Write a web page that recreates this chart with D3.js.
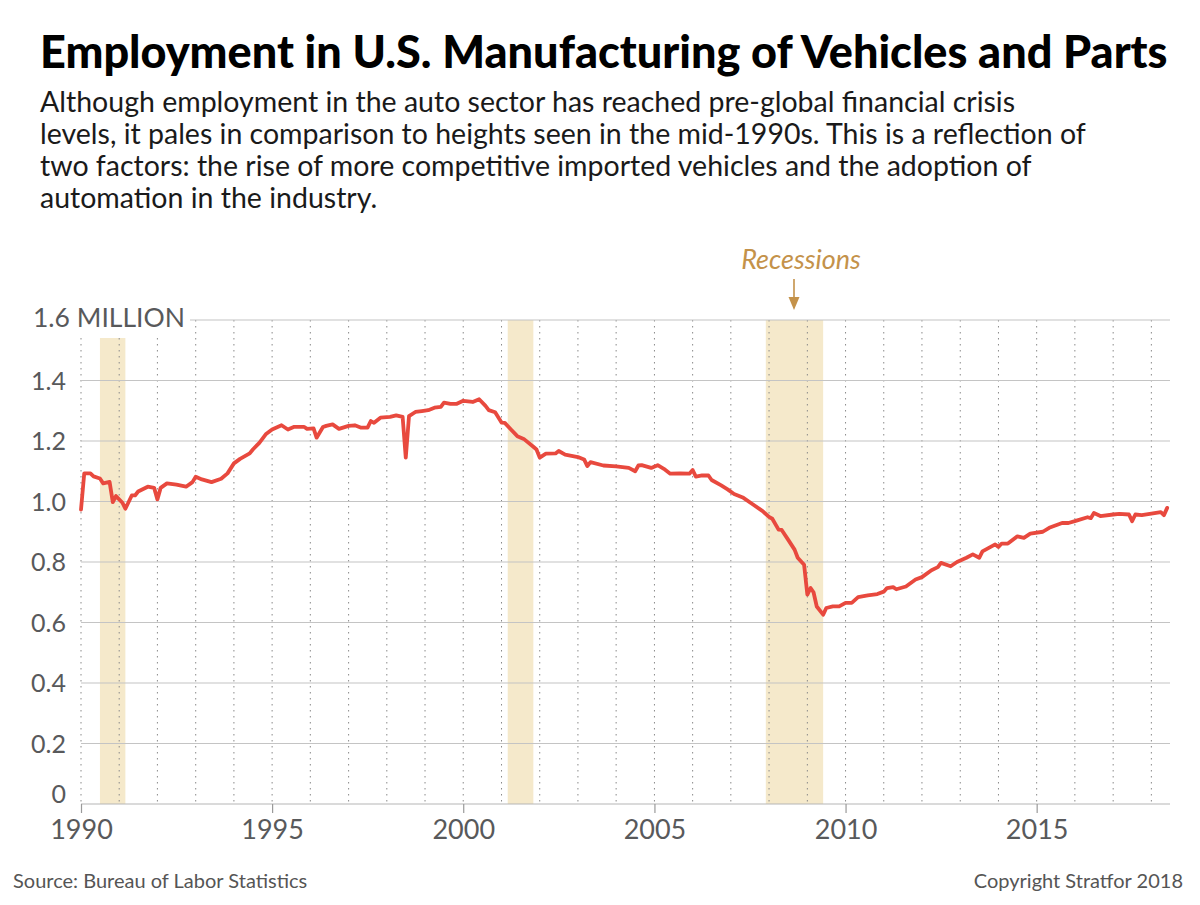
<!DOCTYPE html>
<html>
<head>
<meta charset="utf-8">
<script src="https://cdn.jsdelivr.net/npm/d3@7"></script>
<style>
  html, body { margin: 0; padding: 0; background: #fff; }
  svg { display: block; }
</style>
</head>
<body>
<svg id="chart" width="1200" height="905"></svg>
<script>
// ---------- DATA ----------
const titleText = "Employment in U.S. Manufacturing of Vehicles and Parts";
const subtitleLines = [
  "Although employment in the auto sector has reached pre-global financial crisis",
  "levels, it pales in comparison to heights seen in the mid-1990s. This is a reflection of",
  "two factors: the rise of more competitive imported vehicles and the adoption of",
  "automation in the industry."
];
const sourceText = "Source: Bureau of Labor Statistics";
const copyrightText = "Copyright Stratfor 2018";
const recessionLabel = "Recessions";

const months = [
  "1990-01","1990-02","1990-04","1990-05","1990-07","1990-08","1990-10","1990-11","1990-12",
  "1991-02","1991-03","1991-05","1991-06","1991-07","1991-10","1991-12",
  "1992-01","1992-02","1992-04","1992-07","1992-10","1992-12",
  "1993-01","1993-03","1993-06","1993-09","1993-11",
  "1994-01","1994-03","1994-06","1994-07","1994-09","1994-11",
  "1995-01","1995-04","1995-06","1995-08","1995-11","1995-12",
  "1996-02","1996-03","1996-05","1996-06","1996-08","1996-10",
  "1997-01","1997-03","1997-05","1997-07","1997-08","1997-09","1997-11",
  "1998-02","1998-04","1998-06","1998-07","1998-08","1998-10","1998-12",
  "1999-02","1999-04","1999-06","1999-07","1999-09","1999-11",
  "2000-01","2000-04","2000-06","2000-08","2000-09","2000-11",
  "2001-01","2001-02","2001-04","2001-06","2001-08","2001-11","2001-12",
  "2002-01","2002-03","2002-06","2002-07","2002-09",
  "2003-01","2003-03","2003-04","2003-05","2003-09",
  "2004-01","2004-05","2004-07","2004-08","2004-09","2004-12",
  "2005-02","2005-04","2005-06","2005-09","2005-12",
  "2006-01","2006-02","2006-04","2006-06","2006-07","2006-10","2006-12",
  "2007-02","2007-05","2007-08","2007-11",
  "2008-01","2008-02","2008-04","2008-05","2008-07","2008-09","2008-10","2008-12",
  "2009-01","2009-02","2009-03","2009-04","2009-06","2009-07","2009-09","2009-11",
  "2010-01","2010-03","2010-05","2010-08","2010-11",
  "2011-01","2011-02","2011-04","2011-05","2011-08","2011-11",
  "2012-01","2012-04","2012-06","2012-07","2012-10","2012-12",
  "2013-03","2013-05","2013-07","2013-08","2013-12",
  "2014-01","2014-02","2014-04","2014-07","2014-09","2014-11",
  "2015-03","2015-05","2015-09","2015-11",
  "2016-01","2016-05","2016-06","2016-07","2016-09",
  "2017-01","2017-03","2017-06","2017-07","2017-08","2017-10",
  "2018-01","2018-04","2018-05","2018-06"
];
const employment = [ // millions
  0.973,1.093,1.093,1.083,1.076,1.060,1.065,0.998,1.018,
  0.996,0.976,1.020,1.020,1.033,1.049,1.045,
  1.007,1.045,1.060,1.056,1.049,1.064,
  1.082,1.073,1.064,1.075,1.093,
  1.126,1.141,1.159,1.172,1.194,1.222,
  1.238,1.252,1.238,1.247,1.247,1.240,
  1.242,1.211,1.246,1.250,1.255,1.240,
  1.250,1.252,1.244,1.244,1.266,1.260,1.277,
  1.280,1.285,1.280,1.145,1.282,1.296,1.299,
  1.302,1.310,1.313,1.327,1.323,1.323,
  1.333,1.329,1.338,1.316,1.302,1.295,
  1.261,1.260,1.238,1.216,1.207,1.181,1.172,
  1.145,1.158,1.159,1.167,1.155,
  1.147,1.139,1.117,1.130,1.119,
  1.116,1.111,1.100,1.119,1.120,1.111,
  1.120,1.108,1.092,1.093,1.092,
  1.104,1.082,1.086,1.086,1.071,1.053,1.040,
  1.025,1.012,0.990,0.968,
  0.949,0.943,0.907,0.906,0.874,0.841,0.814,0.791,
  0.692,0.714,0.700,0.653,0.626,0.648,0.653,0.653,
  0.665,0.665,0.684,0.690,0.694,
  0.702,0.714,0.717,0.710,0.719,0.742,
  0.750,0.773,0.783,0.797,0.786,0.800,
  0.814,0.825,0.814,0.835,0.858,
  0.850,0.861,0.861,0.885,0.880,0.894,
  0.900,0.913,0.929,0.929,
  0.935,0.948,0.945,0.962,0.952,
  0.957,0.959,0.957,0.935,0.957,0.955,
  0.960,0.965,0.955,0.979
];

const recessionStarts = ["1990-07","2001-03","2007-12"];
const recessionEnds   = ["1991-03","2001-11","2009-06"];

const yTicks = [0, 0.2, 0.4, 0.6, 0.8, 1.0, 1.2, 1.4, 1.6];
const yTickLabels = ["0","0.2","0.4","0.6","0.8","1.0","1.2","1.4","1.6 MILLION"];
const xLabelYears = [1990, 1995, 2000, 2005, 2010, 2015];
const xGridYears = d3.range(1990, 2019);

// ---------- SETUP ----------
const parseMonth = d3.timeParse("%Y-%m");
const data = months.map((m, i) => ({ date: parseMonth(m), value: employment[i] }));

const svg = d3.select("#chart");
const FONT = "Lato, 'Open Sans', 'DejaVu Sans', sans-serif";

const x = d3.scaleTime()
  .domain([new Date(1990, 0, 1), new Date(2018, 5, 28)])
  .range([81, 1170]);
const y = d3.scaleLinear().domain([0, 1.6]).range([804, 320]);

// ---------- TITLE ----------
function fitWidth(sel, target) {
  const node = sel.node();
  const fs = parseFloat(sel.attr("font-size"));
  const w = node.getComputedTextLength();
  sel.attr("font-size", (fs * target / w).toFixed(2));
}
const title = svg.append("text")
  .attr("x", 40).attr("y", 68)
  .attr("font-family", FONT).attr("font-weight", 900)
  .attr("font-size", 42).attr("fill", "#000")
  .text(titleText);
fitWidth(title, 1128);

const sub = svg.append("g")
  .attr("font-family", FONT).attr("fill", "#1a1a1a");
const subTexts = sub.selectAll("text").data(subtitleLines).join("text")
  .attr("x", 40)
  .attr("y", (d, i) => 112 + i * 32)
  .attr("font-size", 25)
  .text(d => d);
{
  const n = subTexts.nodes()[1];
  const w = n.getComputedTextLength();
  const fs = 25 * 1046 / w;
  subTexts.attr("font-size", fs.toFixed(2));
}

// ---------- RECESSIONS ----------
const labelGap = 18;
const labelRight = 190;
svg.append("g").selectAll("rect")
  .data(recessionStarts.map((s, i) => ({ s: parseMonth(s), e: parseMonth(recessionEnds[i]) })))
  .join("rect")
  .attr("x", d => x(d.s))
  .attr("width", d => x(d.e) - x(d.s))
  .attr("y", d => x(d.s) < labelRight ? y(1.6) + labelGap : y(1.6))
  .attr("height", d => y(0) - (x(d.s) < labelRight ? y(1.6) + labelGap : y(1.6)))
  .attr("fill", "#f5e9cb");

// ---------- GRID ----------
svg.append("g").selectAll("line")
  .data(xGridYears)
  .join("line")
  .attr("x1", d => x(new Date(d, 0, 1)))
  .attr("x2", d => x(new Date(d, 0, 1)))
  .attr("y1", d => x(new Date(d, 0, 1)) < labelRight ? y(1.6) + labelGap : y(1.6))
  .attr("y2", y(0))
  .attr("stroke", "#8a8a8a")
  .attr("stroke-width", 1)
  .attr("stroke-dasharray", "1.5,4.5");

svg.append("g").selectAll("line")
  .data(yTicks)
  .join("line")
  .attr("x1", d => d === 1.6 ? labelRight : x.range()[0])
  .attr("x2", x.range()[1])
  .attr("y1", d => y(d)).attr("y2", d => y(d))
  .attr("stroke", d => d === 0 ? "#b5b5b5" : "#c4c4c4")
  .attr("stroke-width", 1.2);

// y tick labels
svg.append("g").selectAll("text")
  .data(yTicks)
  .join("text")
  .attr("x", d => d === 1.6 ? 33 : 66)
  .attr("y", d => y(d))
  .attr("dy", d => d === 1.6 ? 7 : (d === 0 ? -1 : 9))
  .attr("text-anchor", d => d === 1.6 ? "start" : "end")
  .attr("font-family", FONT)
  .attr("font-size", d => d === 1.6 ? 26.5 : 25)
  .attr("fill", "#58595b")
  .text((d, i) => yTickLabels[i]);

// x axis ticks + labels
const xAxis = d3.axisBottom(x)
  .tickValues(xLabelYears.map(yr => new Date(yr, 0, 1)))
  .tickFormat(d3.timeFormat("%Y"))
  .tickSize(9)
  .tickPadding(7);
const gx = svg.append("g").attr("transform", `translate(0,${y(0)})`).call(xAxis);
gx.select(".domain").remove();
gx.selectAll(".tick line").attr("stroke", "#9a9a9a").attr("stroke-width", 1.2);
gx.selectAll(".tick text")
  .attr("font-family", FONT).attr("font-size", 27).attr("fill", "#58595b");

// ---------- LINE ----------
const line = d3.line().x(d => x(d.date)).y(d => y(d.value));
svg.append("path")
  .datum(data)
  .attr("d", line)
  .attr("fill", "none")
  .attr("stroke", "#e8493e")
  .attr("stroke-width", 3.8)
  .attr("stroke-linejoin", "round")
  .attr("stroke-linecap", "round");

// ---------- RECESSION ANNOTATION ----------
const gold = "#c4924a";
svg.append("text")
  .attr("x", 801).attr("y", 269)
  .attr("text-anchor", "middle")
  .attr("font-family", FONT).attr("font-style", "italic")
  .attr("font-size", 27).attr("fill", gold)
  .text(recessionLabel);
svg.append("line")
  .attr("x1", 794).attr("x2", 794).attr("y1", 279).attr("y2", 300)
  .attr("stroke", gold).attr("stroke-width", 1.6);
svg.append("path")
  .attr("d", "M788.5,297 L799.5,297 L794,310 Z")
  .attr("fill", gold);

// ---------- FOOTER ----------
svg.append("text")
  .attr("x", 13).attr("y", 888)
  .attr("font-family", FONT).attr("font-size", 20).attr("fill", "#555")
  .text(sourceText);
svg.append("text")
  .attr("x", 1183).attr("y", 888)
  .attr("text-anchor", "end")
  .attr("font-family", FONT).attr("font-size", 20).attr("fill", "#555")
  .text(copyrightText);
</script>
</body>
</html>
